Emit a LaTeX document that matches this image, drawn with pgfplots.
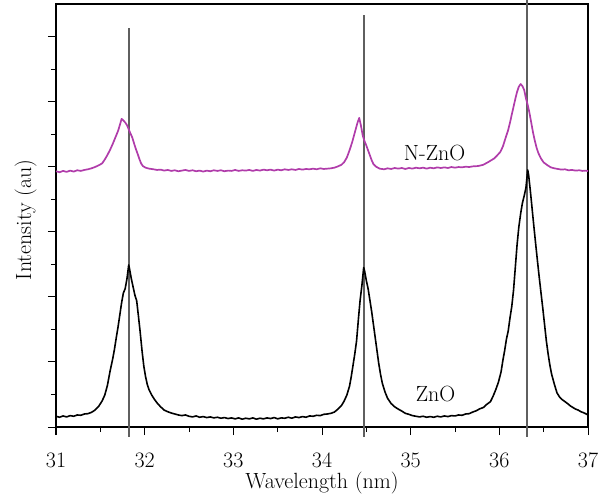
\documentclass[border=0pt]{standalone}
\usepackage{fontspec}
\usepackage{pgfplots}
\pgfplotsset{compat=1.18}

\definecolor{nzno}{RGB}{176,60,170}
\definecolor{refline}{RGB}{95,95,95}
\newcommand{\labelfont}{\fontsize{22}{26}\selectfont}
\tikzset{bigtext/.style={font=\labelfont}}

% ZnO spectrum
\pgfplotstableread{
x y
31.00 0.33
31.04 0.30
31.08 0.34
31.12 0.31
31.16 0.35
31.20 0.33
31.24 0.37
31.28 0.36
31.32 0.40
31.36 0.41
31.40 0.45
31.44 0.52
31.48 0.63
31.52 0.80
31.55 0.98
31.58 1.28
31.61 1.72
31.64 2.10
31.66 2.40
31.68 2.75
31.70 3.08
31.72 3.45
31.74 3.82
31.76 4.12
31.78 4.25
31.80 4.55
31.82 4.98
31.83 4.85
31.85 4.55
31.87 4.30
31.89 4.05
31.91 3.88
31.93 3.40
31.95 2.90
31.97 2.35
31.99 1.88
32.01 1.55
32.03 1.30
32.05 1.14
32.08 0.98
32.11 0.85
32.14 0.74
32.18 0.62
32.22 0.52
32.26 0.47
32.30 0.43
32.34 0.40
32.38 0.37
32.42 0.35
32.46 0.37
32.50 0.33
32.54 0.31
32.58 0.34
32.62 0.30
32.66 0.32
32.70 0.29
32.74 0.31
32.78 0.28
32.82 0.30
32.86 0.27
32.90 0.29
32.94 0.26
32.98 0.28
33.02 0.25
33.06 0.28
33.10 0.24
33.14 0.27
33.18 0.25
33.22 0.28
33.26 0.24
33.30 0.27
33.34 0.25
33.38 0.28
33.42 0.26
33.46 0.29
33.50 0.25
33.54 0.28
33.58 0.27
33.62 0.30
33.66 0.27
33.70 0.31
33.74 0.29
33.78 0.32
33.82 0.30
33.86 0.34
33.90 0.33
33.94 0.36
33.98 0.35
34.02 0.39
34.06 0.40
34.10 0.42
34.14 0.46
34.18 0.55
34.22 0.66
34.25 0.80
34.28 0.98
34.31 1.25
34.33 1.55
34.35 1.90
34.37 2.25
34.39 2.65
34.41 3.30
34.43 3.90
34.45 4.35
34.47 4.90
34.48 4.80
34.50 4.50
34.52 4.25
34.54 3.90
34.56 3.55
34.58 3.15
34.60 2.75
34.62 2.35
34.64 1.95
34.66 1.62
34.68 1.35
34.71 1.08
34.74 0.88
34.78 0.72
34.82 0.62
34.86 0.55
34.90 0.49
34.94 0.42
34.98 0.39
35.02 0.35
35.06 0.33
35.10 0.31
35.14 0.33
35.18 0.30
35.22 0.32
35.26 0.30
35.30 0.33
35.34 0.31
35.38 0.34
35.42 0.32
35.46 0.35
35.50 0.34
35.54 0.37
35.58 0.36
35.62 0.40
35.66 0.41
35.70 0.46
35.74 0.50
35.78 0.56
35.82 0.60
35.86 0.70
35.90 0.78
35.93 0.95
35.96 1.15
35.99 1.38
36.02 1.70
36.04 2.05
36.06 2.35
36.08 2.70
36.10 2.95
36.12 3.35
36.14 3.70
36.16 4.20
36.18 4.90
36.20 5.60
36.22 6.15
36.24 6.55
36.26 6.88
36.28 7.10
36.30 7.35
36.32 7.90
36.33 7.75
36.35 7.25
36.37 6.70
36.39 6.15
36.41 5.62
36.43 5.10
36.45 4.60
36.47 4.12
36.49 3.65
36.51 3.15
36.53 2.65
36.55 2.25
36.57 1.90
36.59 1.62
36.62 1.32
36.65 1.05
36.68 0.92
36.71 0.84
36.74 0.78
36.77 0.72
36.80 0.65
36.83 0.60
36.86 0.55
36.89 0.52
36.92 0.47
36.95 0.44
36.98 0.40
37.00 0.37
}\znodata

% N-doped ZnO spectrum (offset upwards)
\pgfplotstableread{
x y
31.00 7.86
31.04 7.83
31.08 7.87
31.12 7.84
31.16 7.88
31.20 7.85
31.24 7.89
31.28 7.87
31.32 7.90
31.36 7.92
31.40 7.95
31.44 7.99
31.48 8.04
31.52 8.10
31.55 8.22
31.58 8.36
31.61 8.52
31.64 8.70
31.67 8.90
31.70 9.10
31.72 9.28
31.74 9.47
31.76 9.42
31.78 9.36
31.80 9.28
31.82 9.15
31.84 9.02
31.86 8.90
31.88 8.72
31.90 8.55
31.92 8.40
31.94 8.24
31.96 8.10
31.98 8.02
32.01 7.97
32.05 7.94
32.10 7.92
32.14 7.90
32.18 7.91
32.22 7.88
32.26 7.90
32.30 7.87
32.34 7.89
32.38 7.86
32.42 7.88
32.46 7.90
32.50 7.87
32.54 7.89
32.58 7.86
32.62 7.88
32.66 7.85
32.70 7.88
32.74 7.86
32.78 7.89
32.82 7.87
32.86 7.89
32.90 7.86
32.94 7.88
32.98 7.87
33.02 7.90
33.06 7.87
33.10 7.89
33.14 7.88
33.18 7.90
33.22 7.87
33.26 7.90
33.30 7.88
33.34 7.91
33.38 7.89
33.42 7.91
33.46 7.88
33.50 7.91
33.54 7.89
33.58 7.92
33.62 7.90
33.66 7.92
33.70 7.90
33.74 7.93
33.78 7.91
33.82 7.93
33.86 7.92
33.90 7.94
33.94 7.92
33.98 7.95
34.02 7.93
34.06 7.94
34.10 7.95
34.14 7.97
34.18 8.01
34.22 8.06
34.25 8.14
34.28 8.28
34.31 8.50
34.34 8.75
34.36 8.95
34.38 9.15
34.40 9.35
34.42 9.50
34.44 9.25
34.46 8.95
34.48 8.78
34.50 8.65
34.52 8.50
34.54 8.35
34.56 8.20
34.58 8.08
34.61 8.00
34.65 7.94
34.70 7.92
34.74 7.95
34.78 7.93
34.82 7.96
34.86 7.94
34.90 7.96
34.94 7.93
34.98 7.96
35.02 7.94
35.06 7.97
35.10 7.95
35.14 7.97
35.18 7.94
35.22 7.97
35.26 7.95
35.30 7.98
35.34 7.96
35.38 7.98
35.42 7.96
35.46 7.99
35.50 7.97
35.54 7.99
35.58 7.98
35.62 8.00
35.66 7.99
35.70 8.01
35.76 8.02
35.82 8.06
35.88 8.15
35.94 8.25
35.98 8.36
36.01 8.45
36.04 8.62
36.07 8.88
36.10 9.13
36.12 9.35
36.14 9.60
36.16 9.84
36.18 10.08
36.20 10.30
36.22 10.46
36.24 10.54
36.26 10.48
36.28 10.36
36.30 10.10
36.32 9.90
36.34 9.65
36.36 9.35
36.38 9.05
36.40 8.80
36.42 8.58
36.44 8.42
36.47 8.25
36.50 8.13
36.54 8.05
36.58 7.98
36.62 7.95
36.66 7.93
36.70 7.91
36.74 7.92
36.78 7.89
36.82 7.90
36.86 7.88
36.90 7.89
36.94 7.87
36.98 7.88
37.00 7.86
}\nznodata

\begin{document}
\begin{tikzpicture}
\begin{axis}[
  name=ax,
  scale only axis,
  width=532pt, height=423pt,
  xmin=31, xmax=37, ymin=0, ymax=13,
  xtick={31,32,...,37},
  minor x tick num=1,
  ytick={0,2,...,12},
  minor ytick={1,3,...,11},
  yticklabels={},
  xtick pos=bottom, ytick pos=left,
  tick align=outside,
  major tick length=8pt,
  minor tick length=5pt,
  every tick/.style={black, line width=1pt},
  axis line style={line width=1.2pt},
  clip=false,
  /pgf/number format/assume math mode=true,
  tick label style={bigtext},
  xticklabel style={anchor=base, yshift=-32pt},
  xlabel={Wavelength (nm)},
  ylabel={Intensity (au)},
  label style={bigtext},
  xlabel style={at={(axis description cs:0.5,0)}, anchor=base, yshift=-61pt},
  ylabel style={at={(axis description cs:0,0.49)}, anchor=base, yshift=25pt},
]
  % reference peak positions
  \addplot[refline, line width=1.8pt] coordinates {(31.82,-0.3) (31.82,12.25)};
  \addplot[refline, line width=1.8pt] coordinates {(34.47,-0.3) (34.47,12.65)};
  \addplot[refline, line width=1.8pt] coordinates {(36.31,-0.3) (36.31,13.15)};

  \addplot[nzno, line width=1.7pt, line join=round] table[x=x, y=y] {\nznodata};
  \addplot[black, line width=1.6pt, line join=round] table[x=x, y=y] {\znodata};

  \node[anchor=base, bigtext] at (axis cs:35.27,8.2) {N-ZnO};
  \node[anchor=base, bigtext] at (axis cs:35.28,0.78) {ZnO};
\end{axis}
\pgfresetboundingbox
\path (ax.south west) ++(-56pt,-71pt) rectangle ([shift={(20pt,4pt)}]ax.north east);
\end{tikzpicture}
\end{document}
